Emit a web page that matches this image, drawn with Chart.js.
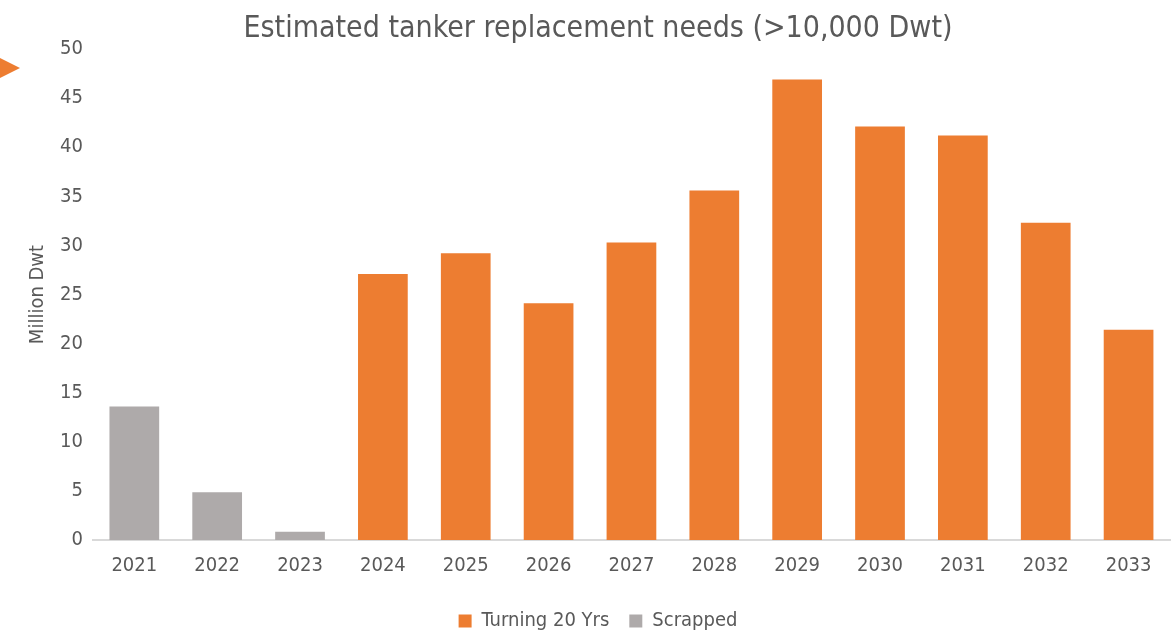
<!DOCTYPE html>
<html>
<head>
<meta charset="utf-8">
<script src="https://cdn.jsdelivr.net/npm/chart.js@4"></script>
<style>
  html, body { margin: 0; padding: 0; background: #fff; }
  #wrap { width: 1174px; height: 631px; }
</style>
</head>
<body>
<div id="wrap"><canvas id="chart"></canvas></div>
<script>
const years = ["2021", "2022", "2023", "2024", "2025", "2026", "2027", "2028", "2029", "2030", "2031", "2032", "2033"];
const turning20 = [null, null, null, 27.1, 29.2, 24.1, 30.3, 35.6, 46.9, 42.1, 41.2, 32.3, 21.4];
const scrapped = [13.6, 4.85, 0.85, null, null, null, null, null, null, null, null, null, null];

const font = "'Liberation Sans Narrow', 'DejaVu Sans Condensed', sans-serif";
const textColor = "#595959";

// small orange arrow at the left edge
const arrowMark = {
  id: "arrowMark",
  afterDraw(chart) {
    const ctx = chart.ctx;
    ctx.save();
    ctx.fillStyle = "#ED7D31";
    ctx.beginPath();
    ctx.moveTo(0, 58);
    ctx.lineTo(20, 68);
    ctx.lineTo(0, 78);
    ctx.closePath();
    ctx.fill();
    ctx.restore();
  },
};

new Chart(document.getElementById("chart"), {
  type: "bar",
  data: {
    labels: years,
    datasets: [
      {
        label: "Turning 20 Yrs",
        data: turning20,
        backgroundColor: "#ED7D31",
      },
      {
        label: "Scrapped",
        data: scrapped,
        backgroundColor: "#AEAAAA",
      },
    ],
  },
  options: {
    responsive: true,
    maintainAspectRatio: false,
    animation: false,
    layout: { padding: { left: 26, right: 4, top: 0, bottom: 0 } },
    datasets: {
      bar: { categoryPercentage: 1, barPercentage: 0.6 },
    },
    scales: {
      x: {
        stacked: true,
        grid: { display: false, drawTicks: false },
        border: { color: "#D9D9D9", width: 2 },
        ticks: { color: textColor, font: { family: font, size: 20, lineHeight: 0.75 }, padding: 18 },
      },
      y: {
        stacked: true,
        min: 0,
        max: 50,
        grid: { display: false, drawTicks: false },
        border: { display: false },
        ticks: { stepSize: 5, color: textColor, font: { family: font, size: 20 }, padding: 10 },
        title: {
          display: true,
          text: "Million Dwt",
          color: textColor,
          font: { family: font, size: 20 },
          padding: { top: 0, bottom: 0 },
        },
      },
    },
    plugins: {
      title: {
        display: true,
        text: "Estimated tanker replacement needs (>10,000 Dwt)",
        color: textColor,
        font: { family: font, size: 30, weight: "normal" },
        padding: { top: 11, bottom: 2 },
      },
      legend: {
        position: "bottom",
        maxHeight: 40,
        labels: {
          color: textColor,
          font: { family: font, size: 20 },
          boxWidth: 13,
          boxHeight: 13,
          padding: 20,
        },
      },
      tooltip: { enabled: false },
    },
  },
  plugins: [arrowMark],
});
</script>
</body>
</html>
